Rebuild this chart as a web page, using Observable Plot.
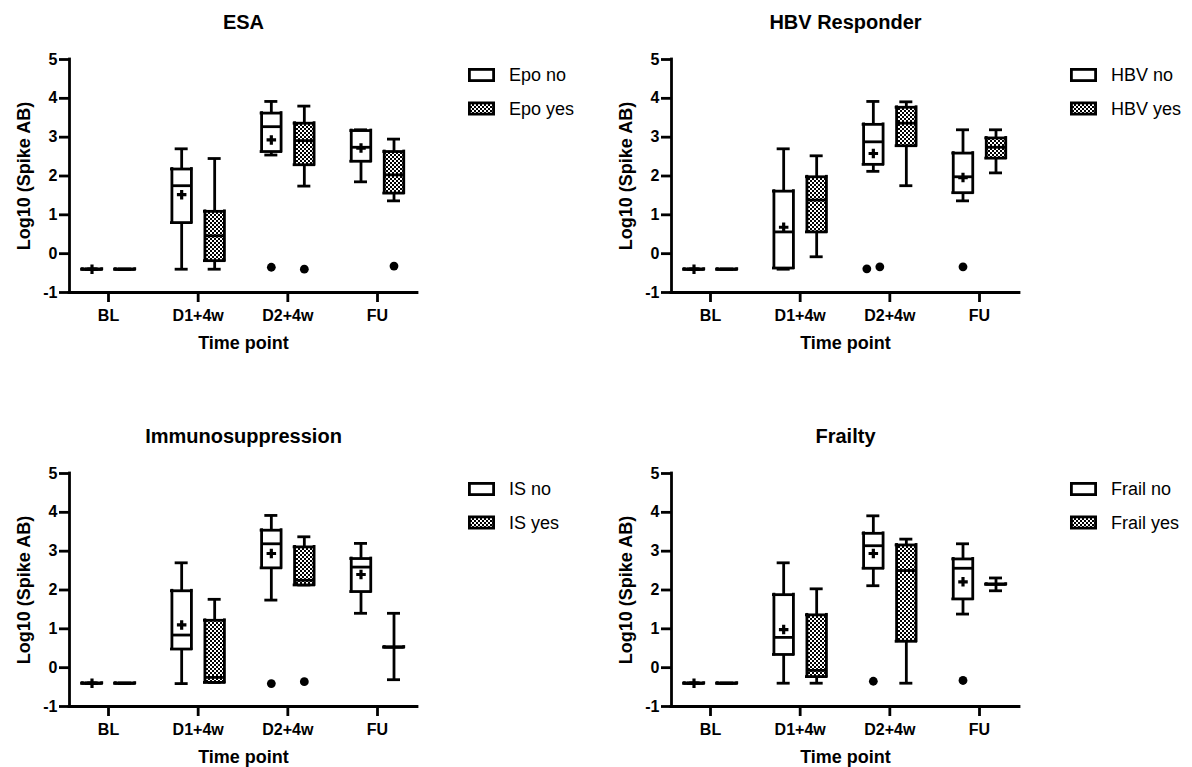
<!DOCTYPE html>
<html><head><meta charset="utf-8">
<script src="https://cdn.jsdelivr.net/npm/d3@7"></script>
<script src="https://cdn.jsdelivr.net/npm/@observablehq/plot@0.6"></script>
<style>
body{margin:0;background:#fff;}
#wrap{position:relative;width:1192px;height:767px;overflow:hidden;}
.panel{position:absolute;}
</style></head><body><div id="wrap"></div>
<script>
// ---------- data ----------
const timepoints = ["BL", "D1+4w", "D2+4w", "FU"];
const yTicks = [-1, 0, 1, 2, 3, 4, 5];
const panelTitles = ["ESA", "HBV Responder", "Immunosuppression", "Frailty"];
const legendNo = ["Epo no", "HBV no", "IS no", "Frail no"];
const legendYes = ["Epo yes", "HBV yes", "IS yes", "Frail yes"];

// box stats per time point: [min, q1, median, q3, max]
const esaNo   = [[-0.4,-0.4,-0.4,-0.4,-0.4],[-0.4,0.80,1.75,2.18,2.70],[2.54,2.63,3.27,3.62,3.92],[1.85,2.38,2.74,3.17,3.19]];
const esaNoMean = [-0.4, 1.52, 2.93, 2.72];
const esaYes  = [[-0.4,-0.4,-0.4,-0.4,-0.4],[-0.4,-0.18,0.46,1.09,2.45],[1.74,2.29,2.91,3.36,3.80],[1.36,1.56,2.03,2.63,2.95]];
const esaOutliers = [["D2+4w","no",-0.35],["D2+4w","yes",-0.40],["FU","yes",-0.32]];

const hbvNo   = [[-0.4,-0.4,-0.4,-0.4,-0.4],[-0.4,-0.37,0.56,1.61,2.70],[2.12,2.30,2.88,3.33,3.92],[1.36,1.57,1.98,2.59,3.19]];
const hbvNoMean = [-0.4, 0.68, 2.58, 1.96];
const hbvYes  = [[-0.4,-0.4,-0.4,-0.4,-0.4],[-0.08,0.56,1.38,1.98,2.52],[1.75,2.78,3.36,3.77,3.91],[2.08,2.46,2.74,2.98,3.19]];
const hbvOutliers = [["D2+4w","no",-0.39],["D2+4w","no",-0.34],["FU","no",-0.34]];

const isNo    = [[-0.4,-0.4,-0.4,-0.4,-0.4],[-0.41,0.48,0.84,1.98,2.70],[1.74,2.57,3.19,3.54,3.92],[1.40,1.96,2.59,2.81,3.20]];
const isNoMean = [-0.4, 1.10, 2.94, 2.40];
const isYes   = [[-0.4,-0.4,-0.4,-0.4,-0.4],[-0.38,-0.38,-0.25,1.22,1.76],[2.13,2.13,2.25,3.11,3.37],[-0.31,0.53,0.53,0.53,1.40]];
const isOutliers = [["D2+4w","no",-0.41],["D2+4w","yes",-0.36]];

const frailNo   = [[-0.4,-0.4,-0.4,-0.4,-0.4],[-0.40,0.34,0.78,1.88,2.70],[2.11,2.56,3.14,3.46,3.91],[1.38,1.77,2.56,2.80,3.19]];
const frailNoMean = [-0.4, 0.98, 2.94, 2.21];
const frailYes  = [[-0.4,-0.4,-0.4,-0.4,-0.4],[-0.40,-0.23,-0.07,1.36,2.03],[-0.40,0.68,2.50,3.16,3.31],[1.98,2.15,2.15,2.15,2.31]];
const frailOutliers = [["D2+4w","no",-0.35],["FU","no",-0.33]];

// ---------- layout ----------
const W = 590, H = 353;
const ML = 69, MR = W - 417, MT = 59, MB = H - 292;
const U = 269 / 3;                 // px per category step
const GROUP_OFF = 16.5 / U, BOX_HW = 9.75 / U, CAP_HW = 6.5 / U, OUT_SPREAD = 13 / U;
const SW = 2.8;
const FONT = "'Liberation Sans', Arial, Helvetica, sans-serif";
const positions = [[0,0],[602,0],[0,414],[602,414]];

function buildRows(noBox, noMean, yesBox) {
  const rows = [];
  [["no", noBox, -1], ["yes", yesBox, 1]].forEach(([g, box, s]) => {
    box.forEach(([mn, q1, md, q3, mx], i) => {
      const cx = i + s * GROUP_OFF;
      rows.push({g, cx, bx1: cx - BOX_HW, bx2: cx + BOX_HW, c1: cx - CAP_HW, c2: cx + CAP_HW,
                 mn, q1, md, q3, mx, mean: g === "no" ? noMean[i] : null});
    });
  });
  return rows;
}
function buildOutliers(list) {
  const groups = d3.group(list, d => d[0] + "|" + d[1]);
  const out = [];
  for (const arr of groups.values()) {
    arr.forEach((d, k) => {
      const i = timepoints.indexOf(d[0]);
      const s = d[1] === "no" ? -1 : 1;
      out.push({x: i + s * GROUP_OFF + (k - (arr.length - 1) / 2) * OUT_SPREAD, y: d[2]});
    });
  }
  return out;
}

const panelData = [
  [esaNo, esaNoMean, esaYes, esaOutliers],
  [hbvNo, hbvNoMean, hbvYes, hbvOutliers],
  [isNo, isNoMean, isYes, isOutliers],
  [frailNo, frailNoMean, frailYes, frailOutliers]
];

const wrap = document.getElementById("wrap");
panelData.forEach(([noB, noM, yesB, outl], p) => {
  const pid = "chk" + p;
  const rows = buildRows(noB, noM, yesB);
  const outs = buildOutliers(outl);
  const fillOf = d => d.g === "yes" ? `url(#${pid})` : "white";
  const plot = Plot.plot({
    width: W, height: H,
    marginLeft: ML, marginRight: MR, marginTop: MT, marginBottom: MB,
    style: {fontFamily: FONT, background: "white", color: "black", overflow: "visible"},
    x: {type: "linear", domain: [-39 / U, 3 + 40 / U]},
    y: {domain: [-1, 5]},
    marks: [
      Plot.axisY({ticks: yTicks, tickSize: 10, tickPadding: 2, strokeWidth: SW, fontSize: 16, fontWeight: "bold",
                  tickFormat: d => String(d), label: null}),
      Plot.axisX({ticks: [0, 1, 2, 3], tickSize: 10, tickPadding: 7, strokeWidth: SW, fontSize: 16, fontWeight: "bold",
                  tickFormat: i => timepoints[i], label: null}),
      Plot.ruleX([-39 / U], {strokeWidth: SW, strokeLinecap: "square"}),
      Plot.ruleY([-1], {strokeWidth: SW, strokeLinecap: "square"}),
      // whiskers
      Plot.ruleX(rows, {x: "cx", y1: "mn", y2: "q1", strokeWidth: SW}),
      Plot.ruleX(rows, {x: "cx", y1: "q3", y2: "mx", strokeWidth: SW}),
      Plot.ruleY(rows, {y: "mn", x1: "c1", x2: "c2", strokeWidth: SW}),
      Plot.ruleY(rows, {y: "mx", x1: "c1", x2: "c2", strokeWidth: SW}),
      // boxes
      Plot.rect(rows, {x1: "bx1", x2: "bx2", y1: "q1", y2: "q3", fill: fillOf}),
      Plot.ruleY(rows, {y: "q1", x1: "bx1", x2: "bx2", strokeWidth: SW, strokeLinecap: "square"}),
      Plot.ruleY(rows, {y: "q3", x1: "bx1", x2: "bx2", strokeWidth: SW, strokeLinecap: "square"}),
      Plot.ruleX(rows, {x: "bx1", y1: "q1", y2: "q3", strokeWidth: SW, strokeLinecap: "square"}),
      Plot.ruleX(rows, {x: "bx2", y1: "q1", y2: "q3", strokeWidth: SW, strokeLinecap: "square"}),
      Plot.ruleY(rows, {y: "md", x1: "bx1", x2: "bx2", strokeWidth: SW}),
      // means
      Plot.dot(rows.filter(d => d.mean != null), {x: "cx", y: "mean", symbol: "cross", r: 4, fill: "black", stroke: "none"}),
      // outliers
      Plot.dot(outs, {x: "x", y: "y", r: 4.4, fill: "black", stroke: "none"}),
      // texts
      Plot.text([panelTitles[p]], {frameAnchor: "top", dy: -37, text: d => d, fontSize: 20, fontWeight: "bold",
                                   textAnchor: "middle", lineAnchor: "middle"}),
      Plot.text(["Log10 (Spike AB)"], {frameAnchor: "left", dx: -45, text: d => d, rotate: -90, fontSize: 18,
                                       fontWeight: "bold", textAnchor: "middle", lineAnchor: "middle"}),
      Plot.text(["Time point"], {frameAnchor: "bottom", dy: 51, text: d => d, fontSize: 18, fontWeight: "bold",
                                 textAnchor: "middle", lineAnchor: "middle"})
    ]
  });
  const svg = d3.select(plot);
  svg.insert("defs", ":first-child").html(
    `<pattern id="${pid}" width="4" height="4" patternUnits="userSpaceOnUse">` +
    `<rect width="4" height="4" fill="#fff"/><rect width="2" height="2" fill="#000"/>` +
    `<rect x="2" y="2" width="2" height="2" fill="#000"/></pattern>`);
  // legend
  const lg = svg.append("g").attr("font-family", FONT).attr("text-anchor", "start");
  [[legendNo[p], "white", 75], [legendYes[p], `url(#${pid})`, 108.5]].forEach(([lab, fill, cy]) => {
    lg.append("rect").attr("x", 469.4).attr("y", cy - 5.6).attr("width", 24.2).attr("height", 11.2)
      .attr("fill", fill).attr("stroke", "black").attr("stroke-width", SW);
    lg.append("text").attr("x", 509).attr("y", cy).attr("dy", "0.36em").attr("font-size", 18)
      .attr("text-anchor", "start").attr("fill", "black").text(lab);
  });
  plot.classList.add("panel");
  plot.style.left = positions[p][0] + "px";
  plot.style.top = positions[p][1] + "px";
  wrap.appendChild(plot);
});
</script></body></html>
